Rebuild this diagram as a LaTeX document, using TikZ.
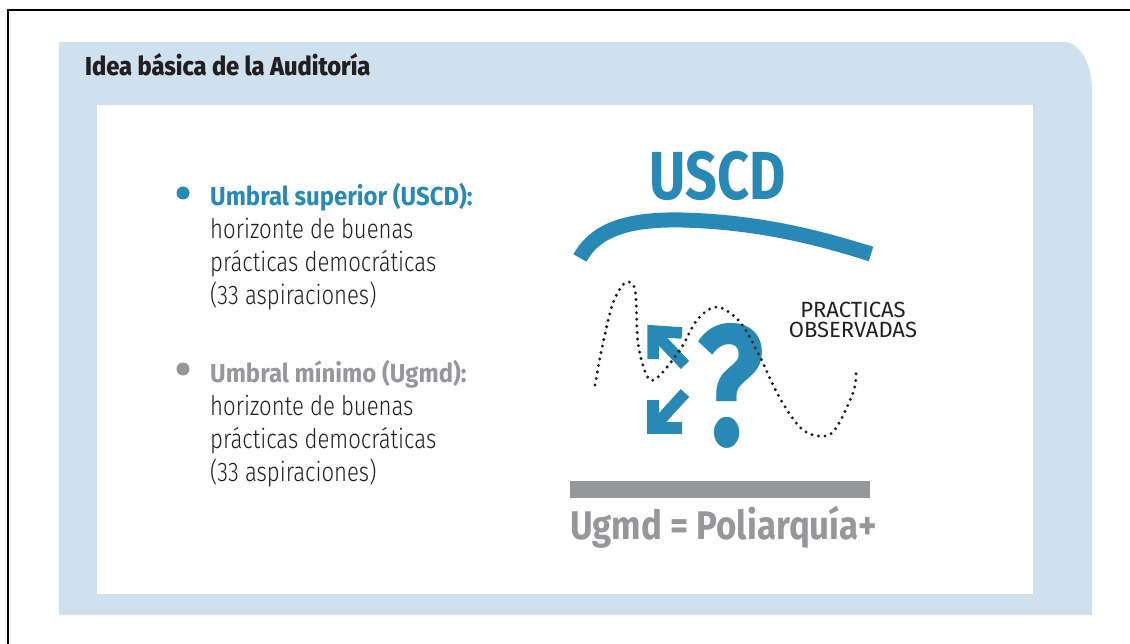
\documentclass[tikz,border=0pt]{standalone}
\usepackage{fontspec}
\setmainfont{Fira Sans}
\IfFontExistsTF{Fira Sans Book}
  {\newfontfamily\bodyfont[FakeStretch=0.8]{Fira Sans Book}}
  {\newfontfamily\bodyfont[FakeStretch=0.82]{Fira Sans Light}}
\IfFontExistsTF{Fira Sans ExtraBold}
  {\newfontfamily\titlefont[FakeStretch=0.91]{Fira Sans ExtraBold}}
  {\newfontfamily\titlefont[FakeStretch=0.91,UprightFont=*,BoldFont=*]{Fira Sans Bold}}
\newfontfamily\headfont[FakeStretch=0.82]{Fira Sans}
\newfontfamily\itemfont[FakeStretch=0.92]{Fira Sans}
\newfontfamily\ugmdfont[FakeStretch=0.87]{Fira Sans}
\usepackage{tikz}
\usetikzlibrary{positioning}

\definecolor{idblue}{RGB}{40,137,183}
\definecolor{panelblue}{RGB}{207,224,238}
\definecolor{idgray}{RGB}{150,151,155}
\definecolor{textdark}{RGB}{35,31,32}

\begin{document}
\begin{tikzpicture}[
x=1pt, y=-1pt,
itemtext/.style={anchor=north west, align=left, inner sep=0pt, text=textdark,
  font=\fontsize{27}{33}\selectfont\bodyfont},
bulletdot/.style={circle, inner sep=0pt, minimum size=13pt},
thickarrow/.style={draw=idblue, line width=11.5pt, line join=miter},
dotline/.style={draw=textdark, line width=3.3pt, line cap=round, dash pattern=on 0pt off 6.6pt}
]
\useasboundingbox (0,0) rectangle (1130,644);

%Frame and panels
\draw[line width=2.5pt] (8,644) -- (8,10) -- (1130,10);
\fill[panelblue] (59,42) -- (1064,42) arc[start angle=-90, end angle=0, x radius=28, y radius=48]
  -- (1092,615) -- (59,615) -- cycle;
\fill[white] (97,105) rectangle (1033,594);

%Nodes
\node[anchor=base west, inner sep=0pt, text=textdark,
  font=\fontsize{26}{30}\selectfont\titlefont] (title) at (85,76) {Idea básica de la Auditoría};

\node[bulletdot, fill=idblue] (dotsup) at (183,193) {};
\node[itemtext] (sup) at (210,183) {{\color{idblue}\fontsize{26}{33}\selectfont\itemfont\bfseries Umbral superior (USCD):}\\
  horizonte de buenas\\ prácticas democráticas\\ (33 aspiraciones)};

\node[bulletdot, fill=idgray] (dotmin) at (183,369) {};
\node[itemtext] (min) at (210,360) {{\color{idgray}\fontsize{26}{33}\selectfont\itemfont\bfseries Umbral mínimo (Ugmd):}\\
  horizonte de buenas\\ prácticas democráticas\\ (33 aspiraciones)};

\node[anchor=base, inner sep=0pt, text=idblue,
  font=\fontsize{68}{68}\selectfont\headfont\bfseries] (uscd) at (718,200) {USCD};
\draw[idblue, line width=15pt] (580,258) .. controls (596,228) and (632,219) .. (682,220)
  .. controls (760,222) and (820,238) .. (871,254);

\node[anchor=base, inner sep=0pt, text=idblue,
  font=\fontsize{172}{172}\selectfont\headfont\bfseries] (quest) at (730,445) {?};

% arrows round the question mark
\coordinate (uptip) at (653,331);
\coordinate (uptail) at (685,365);
\coordinate (uparmA) at (682,333);
\coordinate (uparmB) at (653,359);
\coordinate (lowtip) at (653,428);
\coordinate (lowtail) at (685,393);
\coordinate (lowarmA) at (653,400);
\coordinate (lowarmB) at (682,428);
\draw[thickarrow] (uptail) -- (uptip);
\draw[thickarrow] (uparmA) -- (uptip) -- (uparmB);
\draw[thickarrow] (lowtail) -- (lowtip);
\draw[thickarrow] (lowarmA) -- (lowtip) -- (lowarmB);

\draw[dotline] plot[smooth, tension=0.55] coordinates {(595,385) (603,343) (613,303) (625,283)
  (635,290) (638,343) (647,376) (657,378) (680,350) (697,320) (717,307) (740,322) (760,357)
  (777,393) (797,424) (813,435) (833,432) (853,393) (856,373)};

\node[anchor=north, align=center, inner sep=0pt, text=textdark,
  font=\fontsize{22}{20}\selectfont] (obs) at (853,302) {PRACTICAS\\OBSERVADAS};

\node[fill=idgray, inner sep=0pt, minimum width=300pt, minimum height=17pt] (bar) at (720,489.5) {};
\node[anchor=north west, inner sep=0pt, text=idgray,
  font=\fontsize{40}{40}\selectfont\ugmdfont\bfseries] (ugmd) [below right=8pt and 0pt of bar.south west] {Ugmd = Poliarquía+};
\end{tikzpicture}
\end{document}
